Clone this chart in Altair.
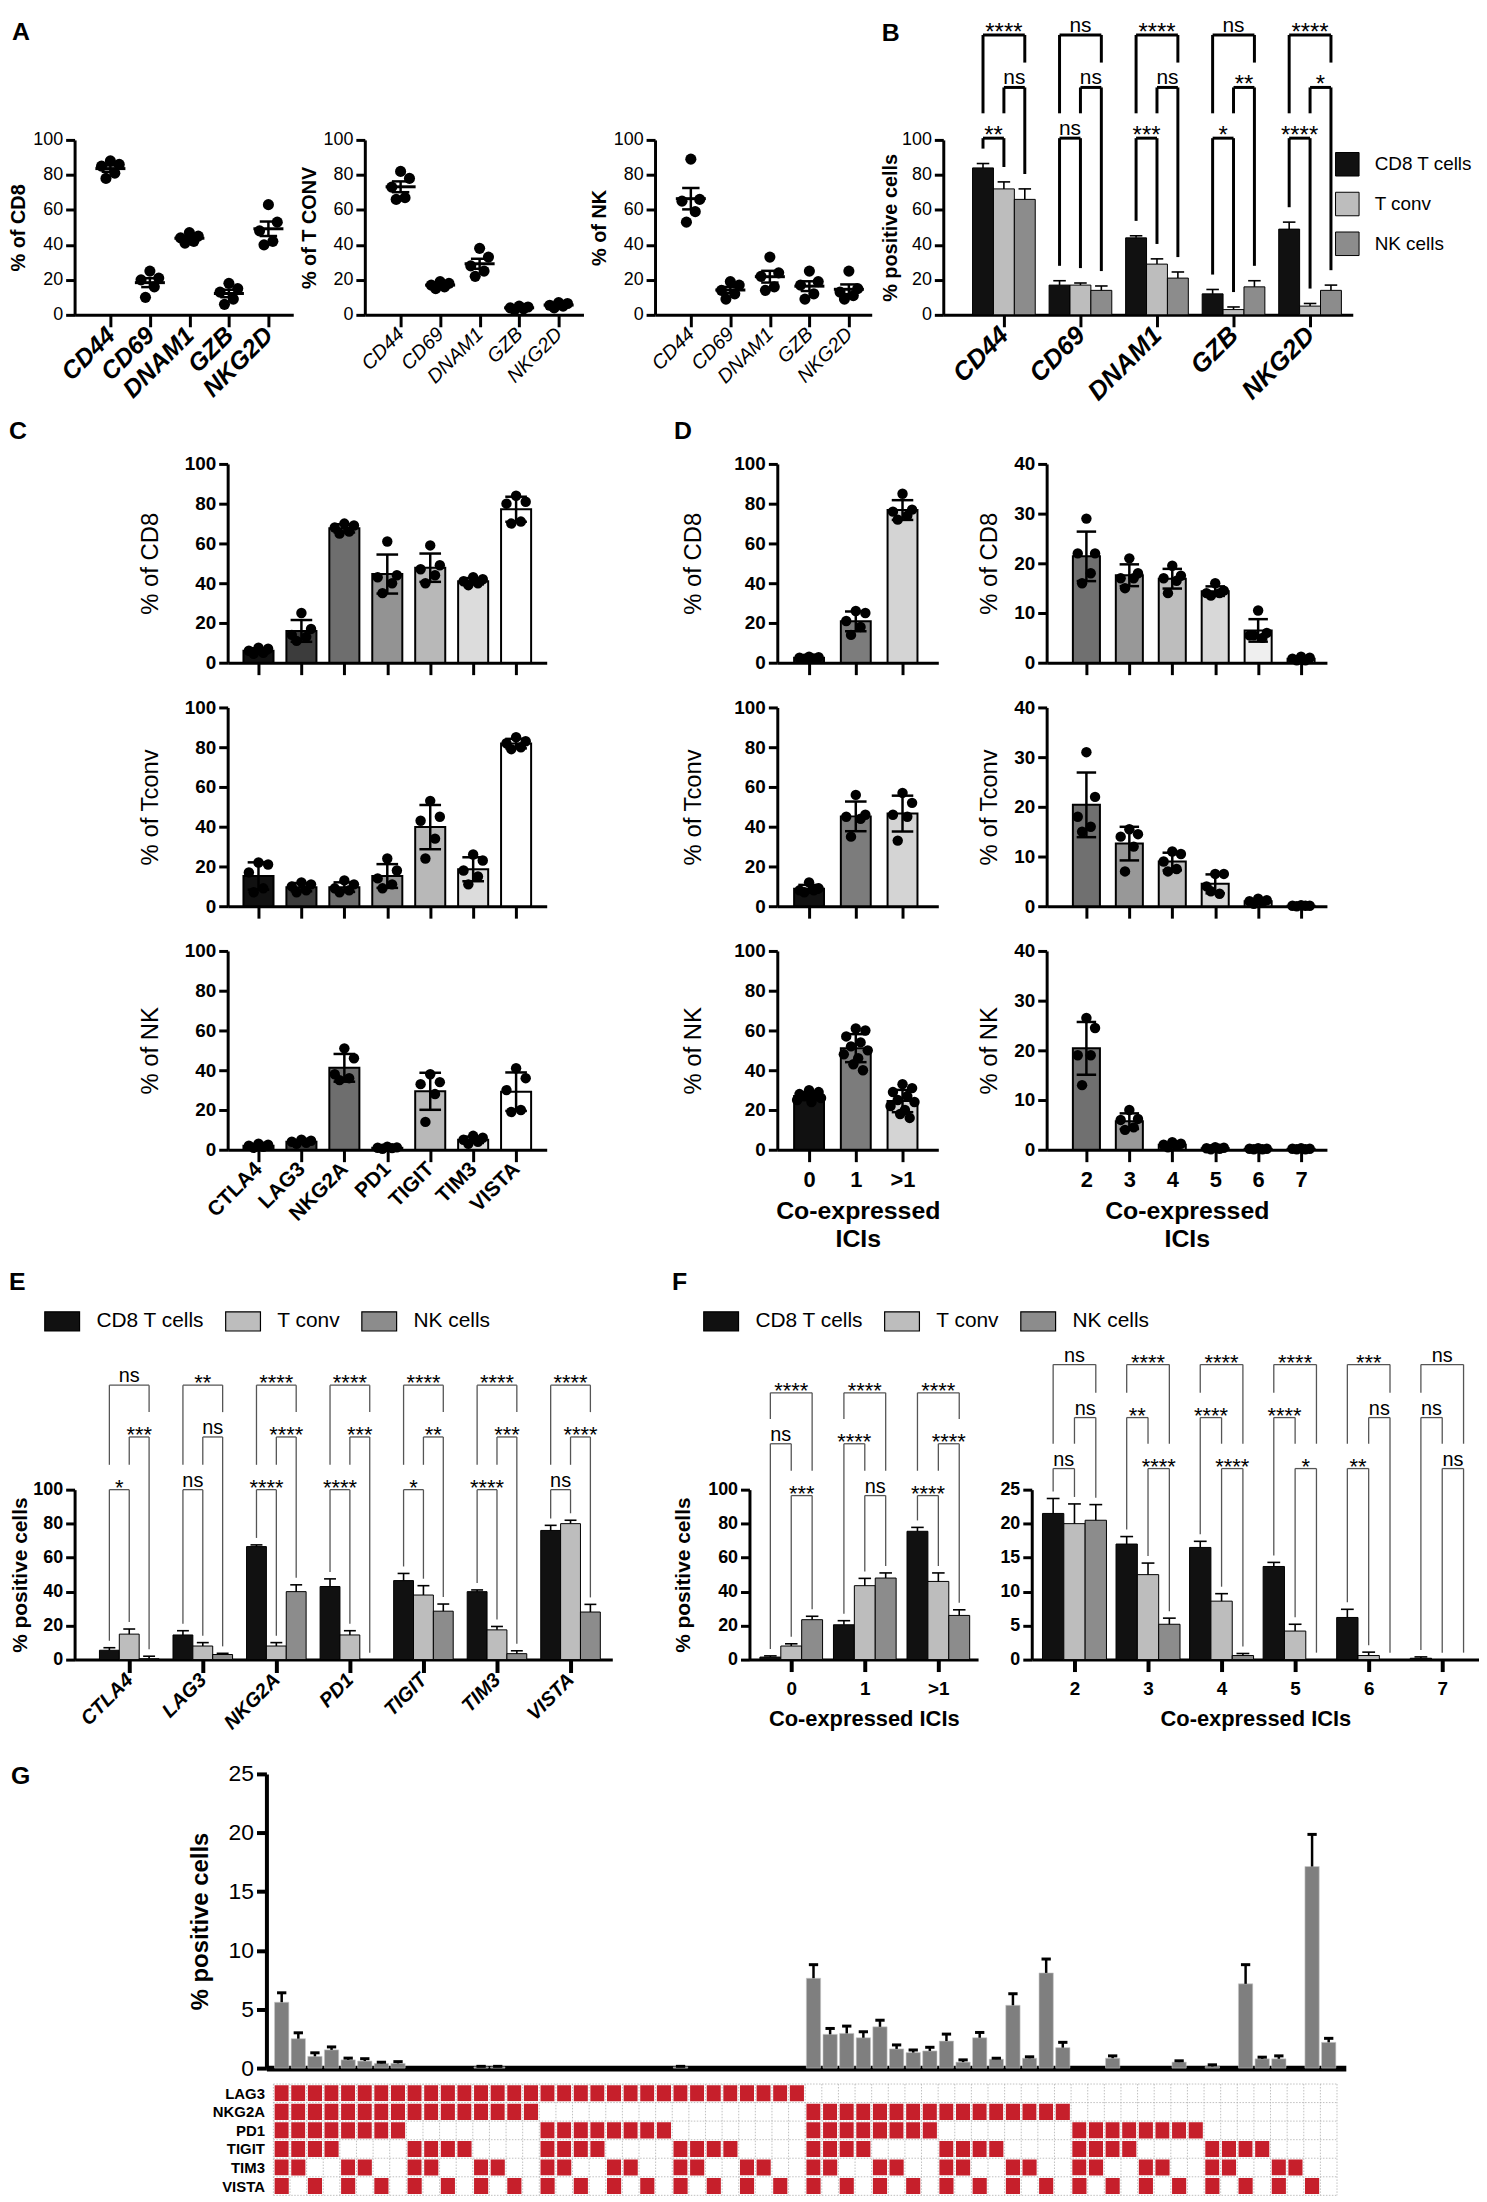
import altair as alt
import pandas as pd
import numpy as np

FONT = "Liberation Sans"

# ---------------------------------------------------------------- data
A_markers = ["CD44", "CD69", "DNAM1", "GZB", "NKG2D"]
A_cd8 = [[88, 86, 85, 81, 78], [25, 21, 20, 16, 10], [47, 45, 44, 42, 41], [18, 15, 13, 9, 6], [63, 53, 48, 42, 40]]
A_tconv = [[82, 78, 73, 67, 66], [19, 18, 17, 16, 15], [38, 33, 28, 25, 22], [5, 4.5, 4, 3.5, 3], [7, 6.5, 5.5, 5, 4]]
A_nk = [[89, 66, 65, 59, 53], [19, 17, 14, 12, 9], [33, 24, 22, 16, 14], [25, 19, 17, 12, 9], [25, 15, 13, 11, 9]]

SERIES = ["CD8 T cells", "T conv", "NK cells"]
SER_COLORS = ["#111111", "#bdbdbd", "#8c8c8c"]

B_cd8 = [84, 17, 44, 12, 49]
B_cd8_err = [2.5, 2.5, 1.2, 2.5, 4]
B_tconv = [72, 17, 29, 3, 5]
B_tconv_err = [4, 1.2, 3, 1.5, 1.5]
B_nk = [66, 14, 21, 16, 14]
B_nk_err = [6, 2.5, 3.5, 3.5, 3]
B_sig_ct = ["**", "ns", "***", "*", "****"]
B_sig_tn = ["ns", "ns", "ns", "**", "*"]
B_sig_cn = ["****", "ns", "****", "ns", "****"]

ICI = ["CTLA4", "LAG3", "NKG2A", "PD1", "TIGIT", "TIM3", "VISTA"]
C_cd8 = [[7.5, 7, 6, 5, 4.5], [25, 17, 14, 13, 11], [70, 69, 68, 66, 65], [61, 44, 43, 40, 35],
         [59, 49, 47, 44, 40], [43, 42, 41, 40, 39], [84, 81, 80, 71, 70]]
C_tconv = [[22, 21, 17, 9, 7], [12, 11, 10, 8, 7], [13, 11, 9, 8, 7], [24, 18, 14, 11, 9],
           [53, 45, 43, 34, 24], [26, 23, 18, 15, 11], [85, 83, 82, 80, 79]]
C_nk = [[3, 2.5, 2, 1.5, 1], [5, 4.5, 4, 3.5, 3], [51, 46, 38, 36, 35], [1.5, 1.2, 1, 0.8, 0.5],
        [38, 34, 33, 28, 14], [7, 6, 5, 4, 3], [41, 36, 30, 20, 19]]

D_groups = ["0", "1", ">1"]
D_cd8 = [[3, 2.8, 2.5, 2.2, 2], [26, 25, 21, 18, 14], [85, 77, 76, 74, 72]]
D_tconv = [[12, 9, 8, 8, 7], [56, 46, 45, 44, 35], [57, 52, 46, 45, 33]]
D_nk = [[30, 29, 28, 27, 27, 26, 25, 24], [61, 60, 57, 54, 52, 50, 48, 46, 43, 40],
        [33, 31, 29, 27, 25, 24, 22, 20, 18, 16]]

Dr_groups = ["2", "3", "4", "5", "6", "7"]
Dr_cd8 = [[29, 22, 22, 18, 16], [21, 18, 17, 17, 15], [19.5, 17.5, 17, 16.5, 14], [16, 14.5, 14, 14, 13.5],
          [10.5, 6, 5.5, 5, 5.5], [1.2, 1, 0.8, 0.5, 0.5]]
Dr_tconv = [[31, 22, 18, 16, 15], [15.5, 14.5, 14, 12, 7], [11, 10.5, 9, 7.5, 7], [6.5, 6.5, 4, 2.5, 3],
            [1.5, 1.2, 1, 0.8, 0.5], [0.2, 0.1, 0.1, 0.1, 0]]
Dr_nk = [[26.5, 24.5, 19, 19, 13], [8, 6.2, 6, 4.5, 4], [1.5, 1.2, 1, 0.8, 0.5], [0.5, 0.4, 0.3, 0.2, 0.1],
         [0.3, 0.2, 0.2, 0.1, 0.1], [0.3, 0.2, 0.2, 0.1, 0.1]]

E_cd8 = [5.5, 14.5, 66.5, 43, 46.5, 40, 76]
E_cd8_err = [1.5, 2.5, 1, 4.5, 4.2, 1, 3]
E_tconv = [15, 8, 8, 14.5, 38, 17.5, 80]
E_tconv_err = [3, 2, 2, 2.5, 5.5, 2, 2]
E_nk = [0.5, 3, 40, 0, 28.5, 3.5, 28]
E_nk_err = [1.5, 0.7, 4, 0, 4.2, 1.7, 4.5]
E_sig_ct = ["*", "ns", "****", "****", "*", "****", "ns"]
E_sig_tn = ["***", "ns", "****", "***", "**", "***", "****"]
E_sig_cn = ["ns", "**", "****", "****", "****", "****", "****"]

F1_groups = ["0", "1", ">1"]
F1_cd8 = [1.5, 20.5, 75.5]
F1_cd8_err = [0.7, 2.4, 2.3]
F1_tconv = [8, 43.5, 46]
F1_tconv_err = [1.3, 4.3, 5]
F1_nk = [23.5, 48, 26]
F1_nk_err = [2, 3, 3.3]
F1_sig_ct = ["ns", "****", "****"]
F1_sig_tn = ["***", "ns", "****"]
F1_sig_cn = ["****", "****", "****"]
F1_level_ct = [1, 1, 0]
F1_level_tn = [0, 0, 1]

F2_groups = ["2", "3", "4", "5", "6", "7"]
F2_cd8 = [21.5, 17, 16.5, 13.7, 6.2, 0.2]
F2_cd8_err = [2.2, 1.1, 0.9, 0.6, 1.2, 0.2]
F2_tconv = [20, 12.5, 8.6, 4.2, 0.6, 0]
F2_tconv_err = [2.9, 1.7, 1.1, 1.0, 0.5, 0]
F2_nk = [20.5, 5.2, 0.6, 0, 0, 0]
F2_nk_err = [2.3, 0.9, 0.3, 0, 0, 0]
F2_sig_ct = ["ns", "**", "****", "****", "**", "ns"]
F2_sig_tn = ["ns", "****", "****", "*", "ns", "ns"]
F2_sig_cn = ["ns", "****", "****", "****", "***", "ns"]
F2_level_ct = [0, 1, 1, 1, 0, 1]
F2_level_tn = [1, 0, 0, 0, 1, 0]

G_rows = ["LAG3", "NKG2A", "PD1", "TIGIT", "TIM3", "VISTA"]
G_combos = [
    "111111", "111110", "111101", "111100", "111011", "111010", "111001", "111000",
    "110111", "110110", "110101", "110100", "110011", "110010", "110001", "110000",
    "101111", "101110", "101101", "101100", "101011", "101010", "101001", "101000",
    "100111", "100110", "100101", "100100", "100011", "100010", "100001", "100000",
    "011111", "011110", "011101", "011100", "011011", "011010", "011001", "011000",
    "010111", "010110", "010101", "010100", "010011", "010010", "010001", "010000",
    "001111", "001110", "001101", "001100", "001011", "001010", "001001", "001000",
    "000111", "000110", "000101", "000100", "000011", "000010", "000001", "000000"]
G_mean = [5.6, 2.5, 1.0, 1.55, 0.7, 0.6, 0.4, 0.4,
          0, 0, 0, 0, 0.1, 0.1, 0, 0,
          0, 0, 0, 0, 0, 0, 0, 0,
          0.1, 0, 0, 0, 0, 0, 0, 0,
          7.64, 2.87, 2.95, 2.58, 3.51, 1.63, 1.32, 1.46,
          2.30, 0.51, 2.58, 0.76, 5.34, 0.84, 8.09, 1.74,
          0, 0, 0.84, 0, 0, 0, 0.51, 0,
          0.14, 0, 7.16, 0.79, 0.79, 0, 17.13, 2.19]
G_err = [0.8, 0.5, 0.3, 0.25, 0.15, 0.2, 0.1, 0.15,
         0, 0, 0, 0, 0.05, 0.05, 0, 0,
         0, 0, 0, 0, 0, 0, 0, 0,
         0.05, 0, 0, 0, 0, 0, 0, 0,
         1.15, 0.5, 0.62, 0.51, 0.56, 0.34, 0.22, 0.31,
         0.59, 0.19, 0.45, 0.08, 0.98, 0.12, 1.18, 0.45,
         0, 0, 0.2, 0, 0, 0, 0.11, 0,
         0.14, 0, 1.63, 0.14, 0.25, 0, 2.73, 0.34]

# ---------------------------------------------------------------- styles
C_colors = ["#111111", "#3c3c3c", "#6e6e6e", "#939393", "#b8b8b8", "#dcdcdc", "#ffffff"]
DL_colors = ["#111111", "#7c7c7c", "#d4d4d4"]
DR_colors = ["#707070", "#989898", "#bdbdbd", "#d8d8d8", "#efefef", "#ffffff"]
JIT = [0.0, 0.8, -0.8, 0.4, -0.4, 1.0, -1.0, 0.2, -0.2, 0.6]
RECT_PATH = "M-1,-0.55L1,-0.55L1,0.55L-1,0.55Z"


def yax(title, values, lsize=18, lbold=False, tsize=20, tbold=True, tpad=2, domw=3, tickw=3, ticksz=9):
    return alt.Axis(title=title, values=values, tickCount=len(values), grid=False, labelFontSize=lsize,
                    labelFontWeight="bold" if lbold else "normal", titleFontSize=tsize,
                    titleFontWeight="bold" if tbold else "normal", titlePadding=tpad,
                    domainColor="black", domainWidth=domw, tickColor="black", tickWidth=tickw,
                    tickSize=ticksz, labelColor="black", titleColor="black", labelPadding=3,
                    labelFont=FONT, titleFont=FONT, labelFlush=False, labelOverlap=False)


def xax(labels, angle=0, lsize=18, lbold=False, italic=False, show=True, title=None, tsize=22,
        tpad=8, ticksz=12, tickw=3, domw=3, lpad=4):
    expr = "[" + ",".join("'%s'" % l for l in labels) + "][datum.value]"
    kw = dict(values=list(range(len(labels))), tickCount=len(labels), labelExpr=expr, grid=False,
              labels=show, labelFontSize=lsize, labelFontWeight="bold" if lbold else "normal",
              labelFontStyle="italic" if italic else "normal", labelAngle=angle,
              domainColor="black", domainWidth=domw, tickColor="black", tickWidth=tickw,
              tickSize=ticksz, labelColor="black", labelPadding=lpad, labelFont=FONT,
              labelFlush=False, labelOverlap=False, title=title, titleFontSize=tsize,
              titleFontWeight="bold", titleFont=FONT, titleColor="black", titlePadding=tpad,
              titleLineHeight=28)
    if angle != 0:
        kw["labelAlign"] = "right"
        kw["labelBaseline"] = "middle"
    return alt.Axis(**kw)


def letter(ch, dx, dy):
    return alt.Chart(pd.DataFrame({"t": [ch]})).mark_text(
        fontSize=25, fontWeight="bold", font=FONT, align="left", baseline="top", color="black"
    ).encode(text="t:N", x=alt.value(dx), y=alt.value(dy))


def spacer(w, h=1):
    return alt.Chart(pd.DataFrame({"v": [0]})).mark_point(opacity=0).encode(
        x=alt.X("v:Q", axis=None), y=alt.Y("v:Q", axis=None)).properties(width=w, height=h)


def frame(w, top, bottom):
    # invisible box fixing the vertical extent of a layout row
    return alt.Chart(pd.DataFrame({"v": [0]})).mark_rect(opacity=0).encode(
        x=alt.value(0), x2=alt.value(w), y=alt.value(-top), y2=alt.value(bottom)
    ).properties(width=w, height=1)


def scatter_chart(pts, width, height, xdom, ytitle, xlsize, xlbold):
    prow, srow = [], []
    for ci, p in enumerate(pts):
        for pi, v in enumerate(p):
            prow.append(dict(x=ci + JIT[pi % len(JIT)] * 0.28, v=v))
        m = float(np.mean(p))
        sem = float(np.std(p, ddof=1) / np.sqrt(len(p)))
        srow.append(dict(x=ci, m=m, lo=m - sem, hi=m + sem, a1=ci - 0.38, a2=ci + 0.38,
                         b1=ci - 0.22, b2=ci + 0.22))
    pdf, sdf = pd.DataFrame(prow), pd.DataFrame(srow)
    xs = alt.Scale(domain=xdom, nice=False, zero=False)
    ys = alt.Scale(domain=[0, 100], nice=False)
    pts_l = alt.Chart(pdf).mark_circle(size=125, color="black", opacity=1).encode(
        x=alt.X("x:Q", scale=xs, axis=xax(A_markers, angle=315, lsize=xlsize, lbold=xlbold, italic=True)),
        y=alt.Y("v:Q", scale=ys, axis=yax(ytitle, [0, 20, 40, 60, 80, 100], lsize=18, tsize=20, tpad=4)))
    mean_l = alt.Chart(sdf).mark_rule(color="black", strokeWidth=3).encode(x="a1:Q", x2="a2:Q", y="m:Q")
    wh = alt.Chart(sdf).mark_rule(color="black", strokeWidth=2.5).encode(x="x:Q", y="lo:Q", y2="hi:Q")
    c1 = alt.Chart(sdf).mark_rule(color="black", strokeWidth=2.5).encode(x="b1:Q", x2="b2:Q", y="lo:Q")
    c2 = alt.Chart(sdf).mark_rule(color="black", strokeWidth=2.5).encode(x="b1:Q", x2="b2:Q", y="hi:Q")
    return alt.layer(pts_l, mean_l, wh, c1, c2).properties(width=width, height=height)


def grouped_chart(groups, means, errs, sig, lev_ct, lev_tn, lev_vals, width, height, xdom, bw,
                  ydom, yaxis, xaxis, legend, br_color, br_width, ns_size, star_size, gap_px,
                  space_px, cap_frac=0.3):
    n = len(groups)
    pxu = height / (ydom[1] - ydom[0])
    gap, space = gap_px / pxu, space_px / pxu
    rows, tops = [], {}
    for gi in range(n):
        for si in range(3):
            xc = gi + (si - 1) * bw
            m, e = means[si][gi], errs[si][gi]
            rows.append(dict(series=SERIES[si], x1=xc - bw / 2, x2=xc + bw / 2, xc=xc, m=m, top=m + e,
                             base=0.0, c1=xc - bw * cap_frac, c2=xc + bw * cap_frac, e=e))
            tops[(gi, si)] = m + e
    df = pd.DataFrame(rows)
    pairs = {"ct": (0, 1), "tn": (1, 2), "cn": (0, 2)}
    br = []
    for gi in range(n):
        lv = {"ct": lev_ct[gi], "tn": lev_tn[gi], "cn": 2}
        lab = {"ct": sig[0][gi], "tn": sig[1][gi], "cn": sig[2][gi]}
        for k, (a, b) in pairs.items():
            L = lv[k]
            y = lev_vals[L]
            ends = []
            for s in (a, b):
                cov = [lv[k2] for k2, (a2, b2) in pairs.items() if lv[k2] < L and s in (a2, b2)]
                ye = lev_vals[max(cov)] + space if cov else tops[(gi, s)] + gap
                ends.append(min(ye, y))
            xa, xb = gi + (a - 1) * bw, gi + (b - 1) * bw
            br.append(dict(xa=xa, xb=xb, xm=(xa + xb) / 2, y=y, ya=ends[0], yb=ends[1], lab=lab[k]))
    bdf = pd.DataFrame(br)
    xs = alt.Scale(domain=xdom, nice=False, zero=False)
    ys = alt.Scale(domain=ydom, nice=False, zero=False)
    bars = alt.Chart(df).mark_rect(stroke="black", strokeWidth=1).encode(
        x=alt.X("x1:Q", scale=xs, axis=xaxis), x2="x2:Q",
        y=alt.Y("m:Q", scale=ys, axis=yaxis), y2="base:Q",
        color=alt.Color("series:N", scale=alt.Scale(domain=SERIES, range=SER_COLORS), legend=legend))
    edf = df[df.e > 0]
    wh = alt.Chart(edf).mark_rule(color="black", strokeWidth=1.6).encode(x="xc:Q", y="m:Q", y2="top:Q")
    cap = alt.Chart(edf).mark_rule(color="black", strokeWidth=1.6).encode(x="c1:Q", x2="c2:Q", y="top:Q")
    hl = alt.Chart(bdf).mark_rule(color=br_color, strokeWidth=br_width).encode(x="xa:Q", x2="xb:Q", y="y:Q")
    la = alt.Chart(bdf).mark_rule(color=br_color, strokeWidth=br_width).encode(x="xa:Q", y="y:Q", y2="ya:Q")
    lb = alt.Chart(bdf).mark_rule(color=br_color, strokeWidth=br_width).encode(x="xb:Q", y="y:Q", y2="yb:Q")
    tns = alt.Chart(bdf[bdf.lab == "ns"]).mark_text(fontSize=ns_size, font=FONT, color="black",
                                                     baseline="alphabetic", dy=-3).encode(
        x="xm:Q", y="y:Q", text="lab:N")
    tst = alt.Chart(bdf[bdf.lab != "ns"]).mark_text(fontSize=star_size, font=FONT, color="black",
                                                     baseline="alphabetic", dy=5).encode(
        x="xm:Q", y="y:Q", text="lab:N")
    return alt.layer(bars, wh, cap, hl, la, lb, tns, tst).properties(width=width, height=height)


def barpts_chart(cats, pts, colors, width, height, xdom, bw, ydom, yvals, ytitle, tpad, xaxis):
    rows, prow = [], []
    for ci, p in enumerate(pts):
        m = float(np.mean(p))
        sd = float(np.std(p, ddof=1))
        rows.append(dict(x1=ci - bw / 2, x2=ci + bw / 2, xc=ci, m=m, lo=max(m - sd, 0), hi=m + sd,
                         c1=ci - bw * 0.36, c2=ci + bw * 0.36, col=colors[ci], base=0.0))
        for pi, v in enumerate(p):
            prow.append(dict(x=ci + JIT[pi % len(JIT)] * bw * 0.4, v=v))
    df, pdf = pd.DataFrame(rows), pd.DataFrame(prow)
    xs = alt.Scale(domain=xdom, nice=False, zero=False)
    ys = alt.Scale(domain=ydom, nice=False, zero=False)
    bars = alt.Chart(df).mark_rect(stroke="black", strokeWidth=2).encode(
        x=alt.X("x1:Q", scale=xs, axis=xaxis), x2="x2:Q",
        y=alt.Y("m:Q", scale=ys, axis=yax(ytitle, yvals, lsize=19, lbold=True, tsize=24, tbold=False, tpad=tpad)),
        y2="base:Q", color=alt.Color("col:N", scale=None))
    wh = alt.Chart(df).mark_rule(color="black", strokeWidth=2.5).encode(x="xc:Q", y="lo:Q", y2="hi:Q")
    c1 = alt.Chart(df).mark_rule(color="black", strokeWidth=2.5).encode(x="c1:Q", x2="c2:Q", y="hi:Q")
    c2 = alt.Chart(df).mark_rule(color="black", strokeWidth=2.5).encode(x="c1:Q", x2="c2:Q", y="lo:Q")
    pts_l = alt.Chart(pdf).mark_circle(size=110, color="black", opacity=1).encode(x="x:Q", y="v:Q")
    return alt.layer(bars, wh, c1, c2, pts_l).properties(width=width, height=height)


# ---------------------------------------------------------------- row 1 (A, B)
A1 = alt.layer(letter("A", -63, -121), scatter_chart(A_cd8, 220, 176, [-0.906, 4.629], "% of CD8", 25, True))
A2 = scatter_chart(A_tconv, 220, 176, [-0.906, 4.629], "% of T CONV", 20, False)
A3 = scatter_chart(A_nk, 218, 176, [-0.906, 4.578], "% of NK", 20, False)

B_leg = alt.Legend(title=None, orient="none", legendX=394, legendY=12, direction="vertical",
                   symbolType="square", symbolSize=560, symbolStrokeColor="black", symbolStrokeWidth=1,
                   symbolOpacity=1, labelFontSize=19, labelFont=FONT, labelColor="black",
                   labelOffset=15, rowPadding=11)
B = alt.layer(letter("B", -62, -120), grouped_chart(
    A_markers, [B_cd8, B_tconv, B_nk], [B_cd8_err, B_tconv_err, B_nk_err],
    [B_sig_ct, B_sig_tn, B_sig_cn], [0] * 5, [1] * 5, [101, 130, 160], 412, 176,
    [-0.792, 4.558], 0.273, [0, 100],
    yax("% positive cells", [0, 20, 40, 60, 80, 100], lsize=18, tsize=20, tpad=1),
    xax(A_markers, angle=315, lsize=26, lbold=True, italic=True),
    B_leg, "black", 3, 21, 24, 15, 25))

# ---------------------------------------------------------------- row 2 (C, D)
Y100 = [0, 20, 40, 60, 80, 100]
C1 = alt.layer(letter("C", -220, -45), barpts_chart(
    ICI, C_cd8, C_colors, 321, 200, [-0.718, 6.713], 0.70, [0, 100], Y100,
    "% of CD8", 22, xax(ICI, show=False)))
C2 = barpts_chart(ICI, C_tconv, C_colors, 321, 200, [-0.718, 6.713], 0.70, [0, 100],
                  Y100, "% of Tconv", 22, xax(ICI, show=False))
C3 = barpts_chart(ICI, C_nk, C_colors, 321, 200, [-0.718, 6.713], 0.70, [0, 100],
                  Y100, "% of NK", 22, xax(ICI, angle=315, lsize=21, lbold=True, lpad=4))

DL1 = alt.layer(letter("D", -104, -45), barpts_chart(
    D_groups, D_cd8, DL_colors, 162, 200, [-0.68, 2.766], 0.64, [0, 100], Y100,
    "% of CD8", 29, xax(D_groups, show=False)))
DL2 = barpts_chart(D_groups, D_tconv, DL_colors, 162, 200, [-0.68, 2.766], 0.64, [0, 100],
                   Y100, "% of Tconv", 29, xax(D_groups, show=False))
DL3 = barpts_chart(D_groups, D_nk, DL_colors, 162, 200, [-0.68, 2.766], 0.64, [0, 100],
                   Y100, "% of NK", 29,
                   xax(D_groups, lsize=22, lbold=True, lpad=8, title=["Co-expressed", "ICIs"], tsize=25, tpad=8))

Y40 = [0, 10, 20, 30, 40]
DR1 = barpts_chart(Dr_groups, Dr_cd8, DR_colors, 282, 200, [-0.926, 5.602], 0.63, [0, 40],
                   Y40, "% of CD8", 12, xax(Dr_groups, show=False))
DR2 = barpts_chart(Dr_groups, Dr_tconv, DR_colors, 282, 200, [-0.926, 5.602], 0.63, [0, 40],
                   Y40, "% of Tconv", 12, xax(Dr_groups, show=False))
DR3 = barpts_chart(Dr_groups, Dr_nk, DR_colors, 282, 200, [-0.926, 5.602], 0.63, [0, 40],
                   Y40, "% of NK", 12,
                   xax(Dr_groups, lsize=22, lbold=True, lpad=8, title=["Co-expressed", "ICIs"], tsize=25, tpad=8))

# ---------------------------------------------------------------- row 3 (E, F)
def hleg(dx):
    return alt.Legend(title=None, orient="none", legendX=dx, legendY=-188, direction="horizontal",
                      symbolType=RECT_PATH, symbolSize=1225, symbolStrokeColor="black",
                      symbolStrokeWidth=1.2, symbolOpacity=1, labelFontSize=21, labelFont=FONT,
                      labelColor="black", labelOffset=16, columnPadding=18)

Y25 = [0, 5, 10, 15, 20, 25]
E = alt.layer(letter("E", -66, -221), grouped_chart(
    ICI, [E_cd8, E_tconv, E_nk], [E_cd8_err, E_tconv_err, E_nk_err],
    [E_sig_ct, E_sig_tn, E_sig_cn], [0] * 7, [1] * 7, [100, 131, 161.5], 541, 171,
    [-0.743, 6.568], 0.27, [0, 100],
    yax("% positive cells", Y100, lsize=18, lbold=True, tsize=21, tpad=2),
    xax(ICI, angle=315, lsize=20, lbold=True, italic=True, ticksz=13, tickw=4),
    hleg(-31), "#555555", 1.3, 20, 22, 7, 25))

F1 = alt.layer(letter("F", -78, -221), grouped_chart(
    F1_groups, [F1_cd8, F1_tconv, F1_nk], [F1_cd8_err, F1_tconv_err, F1_nk_err],
    [F1_sig_ct, F1_sig_tn, F1_sig_cn], F1_level_ct, F1_level_tn, [96.5, 127, 157], 230, 171,
    [-0.568, 2.54], 0.284, [0, 100],
    yax("% positive cells", Y100, lsize=18, lbold=True, tsize=21, tpad=14),
    xax(F1_groups, lsize=19, lbold=True, lpad=8, title="Co-expressed ICIs", tsize=22, tpad=10, tickw=4),
    hleg(-47), "#555555", 1.3, 20, 22, 7, 25))

F2 = grouped_chart(
    F2_groups, [F2_cd8, F2_tconv, F2_nk], [F2_cd8_err, F2_tconv_err, F2_nk_err],
    [F2_sig_ct, F2_sig_tn, F2_sig_cn], F2_level_ct, F2_level_tn, [28.1, 35.6, 43.4], 450, 171,
    [-0.581, 5.50], 0.29, [0, 25],
    yax(None, Y25, lsize=18, lbold=True),
    xax(F2_groups, lsize=19, lbold=True, lpad=8, title="Co-expressed ICIs", tsize=22, tpad=10, tickw=4),
    None, "#555555", 1.3, 20, 22, 7, 25)

# ---------------------------------------------------------------- row 4 (G)
gdom = [-0.919, 64.03]
grow = []
for k in range(len(G_combos)):
    grow.append(dict(x1=k - 0.43, x2=k + 0.43, xc=k, m=G_mean[k], top=G_mean[k] + G_err[k],
                     c1=k - 0.28, c2=k + 0.28, base=0.0, e=G_err[k]))
gdf = pd.DataFrame(grow)
gdf = gdf[gdf.m > 0]
gx = alt.Scale(domain=gdom, nice=False, zero=False)
gbars = alt.Chart(gdf).mark_rect(color="#7f7f7f", stroke="#c8c8c8", strokeWidth=0.6).encode(
    x=alt.X("x1:Q", scale=gx, axis=alt.Axis(labels=False, ticks=False, title=None, grid=False,
                                             domainColor="black", domainWidth=6)),
    x2="x2:Q",
    y=alt.Y("m:Q", scale=alt.Scale(domain=[0, 25], nice=False),
            axis=yax("% positive cells", Y25, lsize=23, lbold=False, tsize=24,
                     tpad=16, domw=4, tickw=4, ticksz=10)),
    y2="base:Q")
gwh = alt.Chart(gdf).mark_rule(color="black", strokeWidth=2.5).encode(x="xc:Q", y="m:Q", y2="top:Q")
gcap = alt.Chart(gdf).mark_rule(color="black", strokeWidth=3).encode(x="c1:Q", x2="c2:Q", y="top:Q")
G = alt.layer(letter("G", -257, -10), gbars, gwh, gcap).properties(width=1086, height=296)

mrow = []
for k, code in enumerate(G_combos):
    for r, bit in enumerate(code):
        if bit == "1":
            mrow.append(dict(x1=k - 0.5, x2=k + 0.5, y1=r - 0.5, y2=r + 0.5))
mdf = pd.DataFrame(mrow)
vl = pd.DataFrame({"x": [k - 0.5 for k in range(len(G_combos) + 1)]})
vl["y1"], vl["y2"] = -0.5, len(G_rows) - 0.5
hl = pd.DataFrame({"y": [r - 0.5 for r in range(len(G_rows) + 1)]})
hl["x1"], hl["x2"] = -0.5, len(G_combos) - 0.5
my = alt.Scale(domain=[-0.5, len(G_rows) - 0.5], nice=False, zero=False, reverse=True)
yexpr = "[" + ",".join("'%s'" % l for l in G_rows) + "][datum.value]"
mred = alt.Chart(mdf).mark_rect(color="#c61f2b", stroke="white", strokeWidth=2.5).encode(
    x=alt.X("x1:Q", scale=gx, axis=None), x2="x2:Q",
    y=alt.Y("y1:Q", scale=my, axis=alt.Axis(values=list(range(len(G_rows))), tickCount=len(G_rows),
                                             labelExpr=yexpr, title=None, domain=False, ticks=False,
                                             grid=False, labelFontSize=15, labelFontWeight="bold",
                                             labelFont=FONT, labelColor="black", labelPadding=2,
                                             labelOverlap=False)),
    y2="y2:Q")
mv = alt.Chart(vl).mark_rule(color="#b0b0b0", strokeWidth=0.8, strokeDash=[1.5, 1.5]).encode(
    x="x:Q", y="y1:Q", y2="y2:Q")
mh = alt.Chart(hl).mark_rule(color="#b0b0b0", strokeWidth=0.8, strokeDash=[1.5, 1.5]).encode(
    x="x1:Q", x2="x2:Q", y="y:Q")
M = alt.layer(mred, mv, mh).properties(width=1086, height=112)

# ---------------------------------------------------------------- layout
def ROW(*items):
    cells = [spacer(it) if isinstance(it, (int, float)) else it for it in items]
    return alt.hconcat(*cells, spacing=0, bounds="flush").resolve_scale(color="independent")


R1 = ROW(frame(66, 125, 280), A1, 72, A2, 72, A3, 72, B)
R2a = ROW(frame(220, 46, 220), C1, 232, DL1, 109, DR1)
R2b = ROW(frame(220, 25, 220), C2, 232, DL2, 109, DR2)
R2c = ROW(frame(220, 25, 320), C3, 232, DL3, 109, DR3)
R3 = ROW(frame(66, 222, 268), E, 138, F1, 54, F2)
R4a = ROW(frame(259, 18, 304), G)
R4b = ROW(frame(259, 4, 113), M)

chart = alt.vconcat(R1, R2a, R2b, R2c, R3, R4a, R4b, spacing=0).resolve_scale(
    color="independent").properties(
    padding={"left": 0, "top": 0, "right": 0, "bottom": 0}
).configure(font=FONT).configure_view(strokeWidth=0).configure_axis(labelFont=FONT, titleFont=FONT)

chart.save("out.html", embed_options={"renderer": "svg", "actions": False})
